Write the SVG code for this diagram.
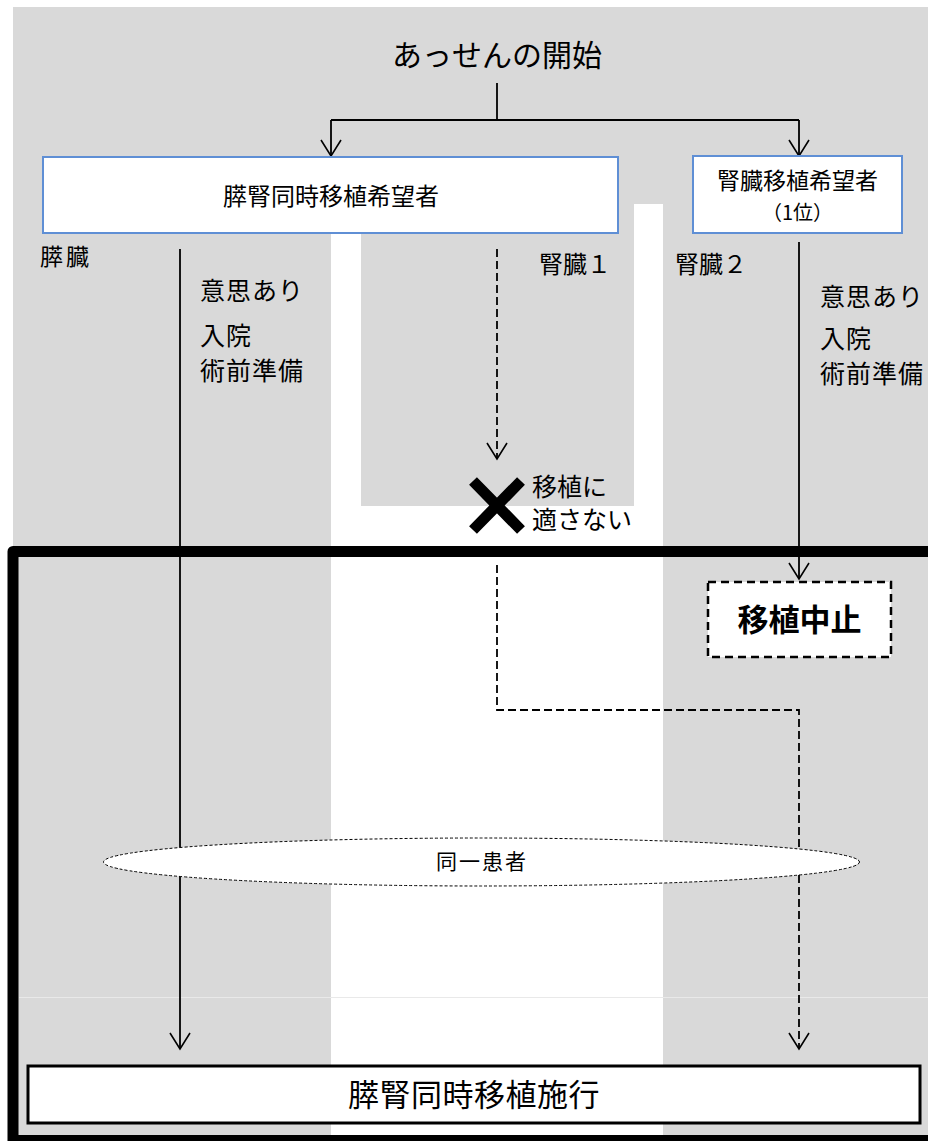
<svg xmlns="http://www.w3.org/2000/svg" width="928" height="1141" viewBox="0 0 928 1141">
<style>
text{font-family:"Noto Sans CJK JP","Noto Sans",sans-serif;fill:#000}
.ln{fill:none;stroke:#000;stroke-width:1.8}
.dl{fill:none;stroke:#000;stroke-width:1.8;stroke-dasharray:8,4}
.bx{fill:#fff;stroke:#5f8fd5;stroke-width:2}
.lb{font-size:25px;letter-spacing:1px}
</style>
<defs>
<marker id="arr" markerUnits="userSpaceOnUse" markerWidth="40" markerHeight="40" viewBox="-20 -20 40 40" refX="0" refY="0" orient="auto" overflow="visible">
<path d="M-16,-10 L0,0 L-16,10" fill="none" stroke="#000" stroke-width="1.6"/>
</marker>
</defs>
<rect x="0" y="0" width="928" height="1141" fill="#fff"/>
<g id="background">
<rect x="13" y="7" width="915" height="1134" fill="#d9d9d9"/>
<rect x="331" y="233" width="30" height="320" fill="#fff"/>
<rect x="361" y="506" width="273" height="47" fill="#fff"/>
<rect x="634" y="204" width="29" height="349" fill="#fff"/>
<rect x="331" y="546" width="332" height="595" fill="#fff"/>
<line x1="19" y1="997.5" x2="928" y2="997.5" stroke="#e9e9e9" stroke-width="1"/>
<rect x="13" y="551.5" width="940" height="589" fill="none" stroke="#000" stroke-width="11" stroke-linejoin="round"/>
</g>
<g id="connectors">
<path class="ln" d="M497,83 V120 M331,120 H799"/>
<path class="ln" d="M331,120 V156" marker-end="url(#arr)"/>
<path class="ln" d="M799,120 V156" marker-end="url(#arr)"/>
<path class="ln" d="M180,249 V1049" marker-end="url(#arr)"/>
<path class="dl" d="M497,249 V459" marker-end="url(#arr)"/>
<path class="ln" d="M799,242 V579" marker-end="url(#arr)"/>
<path class="dl" d="M497,565 V710 H799 V1049" marker-end="url(#arr)"/>
</g>
<g id="start">
<text x="497" y="66" font-size="30" text-anchor="middle">あっせんの開始</text>
</g>
<g id="sp-candidate">
<rect class="bx" x="43" y="157" width="575" height="76"/>
<text x="331" y="205" font-size="24" text-anchor="middle">膵腎同時移植希望者</text>
</g>
<g id="k-candidate">
<rect class="bx" x="693" y="156" width="209" height="77"/>
<text x="797.5" y="189" font-size="23" text-anchor="middle">腎臓移植希望者</text>
<text x="797.5" y="220" font-size="20" text-anchor="middle">（1位）</text>
</g>
<g id="labels">
<text x="40" y="265" font-size="23" letter-spacing="3">膵臓</text>
<text class="lb" x="200" y="300">意思あり</text>
<text class="lb" x="200" y="345">入院</text>
<text class="lb" x="200" y="380">術前準備</text>
<text x="539" y="273" font-size="24">腎臓１</text>
<text x="675" y="273" font-size="24">腎臓２</text>
<text class="lb" x="820" y="306">意思あり</text>
<text class="lb" x="820" y="348">入院</text>
<text class="lb" x="820" y="383">術前準備</text>
</g>
<g id="unsuitable">
<path d="M473,481 L521,530 M521,481 L473,530" stroke="#000" stroke-width="11" fill="none"/>
<text x="532" y="496" font-size="25">移植に</text>
<text x="532" y="529" font-size="25">適さない</text>
</g>
<g id="cancel">
<rect x="708" y="582" width="183" height="75" fill="#fff" stroke="#000" stroke-width="2.5" stroke-dasharray="8,5"/>
<text x="799.5" y="631" font-size="31" font-weight="bold" text-anchor="middle">移植中止</text>
</g>
<g id="same-patient">
<ellipse cx="481.5" cy="862" rx="378" ry="24" fill="#fff" stroke="#000" stroke-width="1" stroke-dasharray="3,2"/>
<text x="482" y="869" font-size="21" letter-spacing="2" text-anchor="middle">同一患者</text>
</g>
<g id="result">
<rect x="28" y="1066" width="892" height="57" fill="#fff" stroke="#000" stroke-width="3"/>
<text x="474" y="1106" font-size="31" letter-spacing="0.5" text-anchor="middle">膵腎同時移植施行</text>
</g>
</svg>
